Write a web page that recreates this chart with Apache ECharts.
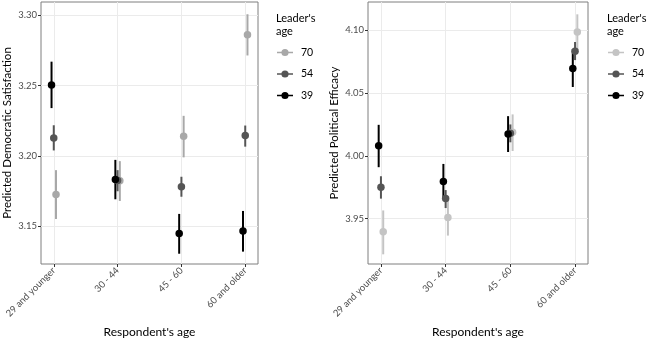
<!DOCTYPE html>
<html>
<head>
<meta charset="utf-8">
<script src="https://cdn.jsdelivr.net/npm/echarts@6/dist/echarts.min.js"></script>
<style>
  html, body { margin: 0; padding: 0; background: #fff; }
  #chart { width: 648px; height: 343px; }
</style>
</head>
<body>
<div id="chart"></div>
<script>
var categories = ['29 and younger', '30 - 44', '45 - 60', '60 and older'];
var groups = ['70', '54', '39'];
var dodge = { '70': 0.035, '54': 0, '39': -0.035 };

// left panel: Predicted Democratic Satisfaction
var satEst = {
  '70': [3.1726, 3.1823, 3.2140, 3.2862],
  '54': [3.2128, 3.1825, 3.1781, 3.2145],
  '39': [3.2505, 3.1832, 3.1448, 3.1466]
};
var satLo = {
  '70': [3.1552, 3.1680, 3.1990, 3.2714],
  '54': [3.2039, 3.1749, 3.1710, 3.2066],
  '39': [3.2340, 3.1692, 3.1305, 3.1320]
};
var satHi = {
  '70': [3.1899, 3.1963, 3.2285, 3.3007],
  '54': [3.2218, 3.1899, 3.1852, 3.2216],
  '39': [3.2670, 3.1972, 3.1588, 3.1609]
};
var satTicks = [3.15, 3.20, 3.25, 3.30];

// right panel: Predicted Political Efficacy
var effEst = {
  '70': [3.9397, 3.9510, 4.0188, 4.0985],
  '54': [3.9751, 3.9661, 4.0180, 4.0833],
  '39': [4.0080, 3.9797, 4.0175, 4.0695]
};
var effLo = {
  '70': [3.9217, 3.9366, 4.0039, 4.0840],
  '54': [3.9660, 3.9585, 4.0108, 4.0762],
  '39': [3.9910, 3.9661, 4.0031, 4.0548]
};
var effHi = {
  '70': [3.9566, 3.9641, 4.0330, 4.1126],
  '54': [3.9838, 3.9728, 4.0250, 4.0906],
  '39': [4.0247, 3.9936, 4.0316, 4.0849]
};
var effTicks = [3.95, 4.00, 4.05, 4.10];

var colorsLeft = { '70': '#a8a8a8', '54': '#555555', '39': '#000000' };
var colorsRight = { '70': '#c4c4c4', '54': '#555555', '39': '#000000' };

var FONT = 'Lato';
var keyIcon = 'path://M0,3.2L16,3.2L16,4.8L0,4.8Z M11.6,4A3.6,3.6,0,1,1,4.4,4A3.6,3.6,0,1,1,11.6,4Z';

function xAxisFor(idx) {
  return {
    type: 'value', gridIndex: idx, min: 0.8, max: 4.2,
    name: "Respondent's age", nameLocation: 'middle', nameGap: 62,
    nameTextStyle: { fontFamily: FONT, fontSize: 12, color: '#000' },
    axisLine: { show: false },
    axisTick: { show: true, length: 3, customValues: [1, 2, 3, 4], lineStyle: { color: '#333' } },
    axisLabel: {
      customValues: [1, 2, 3, 4], rotate: 45, margin: 5,
      fontFamily: FONT, fontSize: 9.5, color: '#4d4d4d',
      formatter: function (v) { return categories[Math.round(v) - 1]; }
    },
    splitLine: { show: true, lineStyle: { color: '#ebebeb', width: 1 } }
  };
}

function yAxisFor(idx, lo, hi, ticks, title) {
  return {
    type: 'value', gridIndex: idx, min: lo, max: hi,
    name: title, nameLocation: 'middle', nameGap: 28,
    nameTextStyle: { fontFamily: FONT, fontSize: 11.5, color: '#000' },
    axisLine: { show: false },
    axisTick: { show: true, length: 3, customValues: ticks, lineStyle: { color: '#333' } },
    axisLabel: {
      customValues: ticks, margin: 4, fontFamily: FONT, fontSize: 9.5, color: '#4d4d4d',
      formatter: function (v) { return v.toFixed(2); }
    },
    splitLine: { show: true, lineStyle: { color: '#ebebeb', width: 1 } }
  };
}

function panelSeries(idx, est, lo, hi, colors) {
  var out = [];
  groups.forEach(function (g) {
    var bars = [], pts = [];
    for (var i = 0; i < categories.length; i++) {
      var x = i + 1 + dodge[g];
      bars.push([x, lo[g][i], hi[g][i]]);
      pts.push([x, est[g][i]]);
    }
    out.push({
      name: g, type: 'custom', xAxisIndex: idx, yAxisIndex: idx,
      data: bars, encode: { x: 0, y: [1, 2] }, silent: true,
      renderItem: function (params, api) {
        var a = api.coord([api.value(0), api.value(1)]);
        var b = api.coord([api.value(0), api.value(2)]);
        return {
          type: 'line',
          shape: { x1: a[0], y1: a[1], x2: b[0], y2: b[1] },
          style: { stroke: colors[g], lineWidth: 2 }
        };
      }
    });
    out.push({
      name: g, type: 'scatter', xAxisIndex: idx, yAxisIndex: idx,
      data: pts, symbol: 'circle', symbolSize: 7.5, silent: true,
      itemStyle: { color: colors[g], opacity: 1 }
    });
  });
  return out;
}

function legendFor(left, colors) {
  return {
    orient: 'vertical', left: left, top: 42, itemWidth: 16, itemHeight: 8, itemGap: 10.5,
    selectedMode: false, icon: keyIcon,
    textStyle: { fontFamily: FONT, fontSize: 10.5, color: '#000', padding: [0, 0, 0, 3] },
    data: groups.map(function (g) { return { name: g, itemStyle: { color: colors[g] } }; })
  };
}

var myChart = echarts.init(document.getElementById('chart'));

var titleStyle = { fontFamily: FONT, fontSize: 11, fontWeight: 'normal', color: '#000', lineHeight: 13 };

var option = {
  animation: false,
  backgroundColor: '#fff',
  title: [
    { text: "Leader's\nage", left: 271, top: 7, textStyle: titleStyle },
    { text: "Leader's\nage", left: 602, top: 7, textStyle: titleStyle }
  ],
  legend: [legendFor(272, colorsLeft), legendFor(603, colorsRight)],
  grid: [
    { left: 38, top: 2, width: 220, height: 270, show: true, borderColor: '#7f7f7f', borderWidth: 1, backgroundColor: 'transparent' },
    { left: 368, top: 2, width: 220, height: 270, show: true, borderColor: '#7f7f7f', borderWidth: 1, backgroundColor: 'transparent' }
  ],
  xAxis: [xAxisFor(0), xAxisFor(1)],
  yAxis: [
    yAxisFor(0, 3.1232, 3.3094, satTicks, 'Predicted Democratic Satisfaction'),
    yAxisFor(1, 3.914, 4.1224, effTicks, 'Predicted Political Efficacy')
  ],
  series: panelSeries(0, satEst, satLo, satHi, colorsLeft)
    .concat(panelSeries(1, effEst, effLo, effHi, colorsRight))
};

myChart.setOption(option);
</script>
</body>
</html>
